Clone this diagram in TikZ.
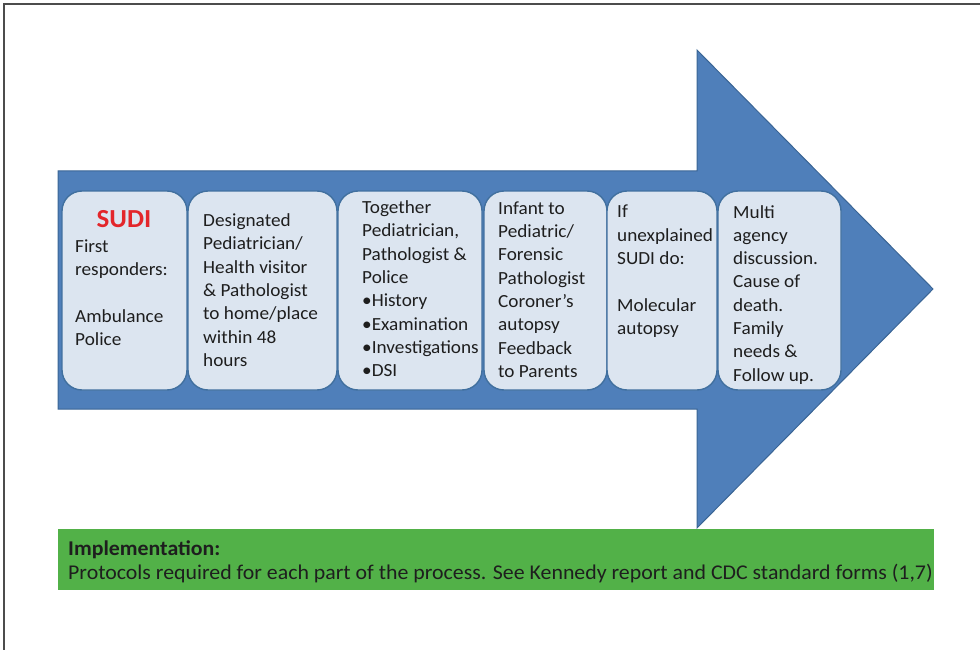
\documentclass[tikz,border=0pt]{standalone}
\usepackage{fontspec}
\setmainfont{Carlito}[FakeStretch=1.04]

\definecolor{arrowblue}{HTML}{4F7FBA}
\definecolor{arrowline}{HTML}{3A6595}
\definecolor{cardfill}{HTML}{DCE5F0}
\definecolor{cardline}{HTML}{41709F}
\definecolor{sudired}{HTML}{E3262B}
\definecolor{bargreen}{HTML}{52B148}
\definecolor{inkgray}{HTML}{1E1E1E}

\tikzset{
  card/.style={draw=cardline, line width=1.4pt, fill=cardfill, rounded corners=20pt,
    minimum height=199pt, inner sep=0pt},
  cardtext/.style={anchor=north west, align=left, inner sep=0pt, text=inkgray,
    font=\fontsize{18.5}{23.3}\selectfont, execute at begin node=\rule{0pt}{13.5pt}},
}

\begin{document}
\begin{tikzpicture}[x=1pt,y=-1pt]
\useasboundingbox (0,0) rectangle (980,650);
% frame
\draw[black!70, line width=1.5pt] (980,4) -- (4,4) -- (4,650);

% the big arrow
\draw[arrowline, fill=arrowblue, line width=1pt]
  (58,171) -- (697,171) -- (697,50) -- (933,289) -- (697,528) -- (697,409) -- (58,409) -- cycle;

% steps
\node[card, minimum width=125pt] (b1) at (124.5,290.5) {};
\node[card, minimum width=149pt] (b2) at (262.5,290.5) {};
\node[card, minimum width=144pt] (b3) at (410,290.5) {};
\node[card, minimum width=123pt] (b4) at (545.5,290.5) {};
\node[card, minimum width=110pt] (b5) at (662,290.5) {};
\node[card, minimum width=123pt] (b6) at (779.5,290.5) {};

\node[anchor=base, inner sep=0pt, text=sudired, font=\fontsize{26}{30}\selectfont\bfseries] (sudi) at (124,227) {SUDI};
\node[cardtext] (t1) at (75,239.5) {First\\responders:\\[23.3pt]Ambulance\\Police};
\node[cardtext] (t2) at (203,213.5) {Designated\\Pediatrician/\\Health visitor\\\& Pathologist\\to home/place\\within 48\\hours};
\node[cardtext] (t3) at (362,200.5) {Together\\Pediatrician,\\Pathologist \&\\Police\\•History\\•Examination\\•Investigations\\•DSI};
\node[cardtext] (t4) at (498,201.5) {Infant to\\Pediatric/\\Forensic\\Pathologist\\Coroner’s\\autopsy\\Feedback\\to Parents};
\node[cardtext] (t5) at (617,205) {If\\unexplained\\SUDI do:\\[23.3pt]Molecular\\autopsy};
\node[cardtext] (t6) at (733,205) {Multi\\agency\\discussion.\\Cause of\\death.\\Family\\needs \&\\Follow up.};

% implementation bar
\node[fill=bargreen, minimum width=876pt, minimum height=61pt, inner sep=0pt] (bar) at (496,559.5) {};
\node[cardtext, font=\fontsize{21}{24}\selectfont] (impl) at (68,540.5)
  {\textbf{Implementation:}\\Protocols required for each part of the process. See Kennedy report and CDC standard forms (1,7)};
\end{tikzpicture}
\end{document}
